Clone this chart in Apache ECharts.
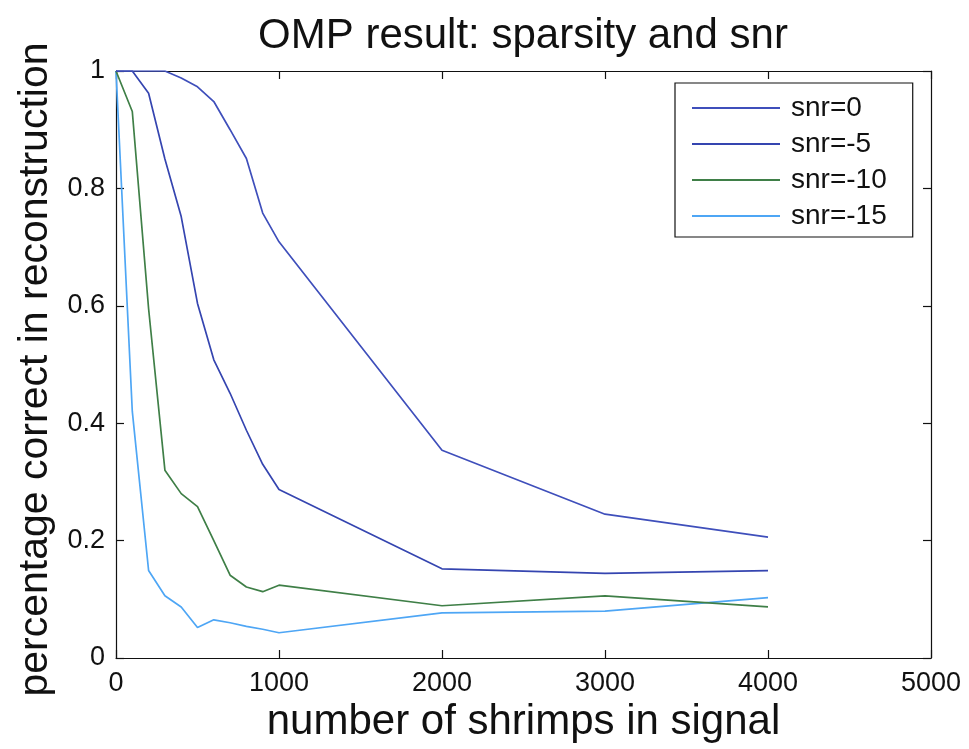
<!DOCTYPE html>
<html>
<head>
<meta charset="utf-8">
<script src="https://cdn.jsdelivr.net/npm/echarts@6/dist/echarts.min.js"></script>
<style>
html,body{margin:0;padding:0;background:#fff;}
#chart{width:969px;height:749px;}
</style>
</head>
<body>
<div id="chart"></div>
<script>
const xValues = [0, 100, 200, 300, 400, 500, 600, 700, 800, 900, 1000, 2000, 3000, 4000];
const snr0   = [1, 1, 1, 1, 0.988, 0.973, 0.948, 0.900, 0.851, 0.758, 0.709, 0.354, 0.245, 0.206];
const snrM5  = [1, 1, 0.962, 0.850, 0.752, 0.604, 0.508, 0.451, 0.388, 0.330, 0.287, 0.152, 0.144, 0.149];
const snrM10 = [1, 0.931, 0.595, 0.320, 0.280, 0.258, 0.200, 0.141, 0.121, 0.113, 0.124, 0.089, 0.106, 0.087];
const snrM15 = [1, 0.420, 0.149, 0.106, 0.087, 0.052, 0.065, 0.060, 0.054, 0.049, 0.043, 0.077, 0.080, 0.103];
const seriesNames = ['snr=0', 'snr=-5', 'snr=-10', 'snr=-15'];
const xTicks = [0, 1000, 2000, 3000, 4000, 5000];
const yTicks = [0, 0.2, 0.4, 0.6, 0.8, 1];

const FONT = "'Liberation Sans', Arial, Helvetica, sans-serif";
const colors = ['#3f4fbb', '#3545b0', '#3f7f47', '#4ea6f5'];
const pair = arr => xValues.map((x, i) => [x, arr[i]]);

const chart = echarts.init(document.getElementById('chart'), null, {renderer: 'canvas'});
const axisCommon = () => ({
  axisLine: {show: true, onZero: false, lineStyle: {color: '#111', width: 1.2}},
  axisTick: {show: true, inside: true, length: 8, lineStyle: {color: '#111', width: 1.2}},
  splitLine: {show: false}
});
chart.setOption({
  backgroundColor: '#fff',
  animation: false,
  title: {
    text: 'OMP result: sparsity and snr',
    left: 518, top: 10, textAlign: 'center',
    textStyle: {fontFamily: FONT, fontSize: 42, fontWeight: 'normal', color: '#111'}
  },
  grid: {left: 116, right: 38, top: 71, bottom: 91, containLabel: false},
  legend: {
    orient: 'vertical',
    left: 675, top: 83,
    data: seriesNames,
    icon: 'rect',
    itemWidth: 88, itemHeight: 2, itemGap: 4,
    padding: [9, 26, 5, 17],
    borderColor: '#111', borderWidth: 1.2, backgroundColor: '#fff',
    textStyle: {fontFamily: FONT, fontSize: 28, lineHeight: 32, color: '#111', padding: [0, 0, 0, 6]}
  },
  xAxis: [
    Object.assign(axisCommon(), {
      type: 'value', min: 0, max: 5000, interval: 1000, position: 'bottom',
      name: 'number of shrimps in signal', nameLocation: 'middle', nameGap: 30,
      nameTextStyle: {fontFamily: FONT, fontSize: 42, color: '#111'},
      axisLabel: {fontFamily: FONT, fontSize: 27, color: '#111', margin: 12,
        formatter: v => xTicks.includes(v) ? String(v) : ''}
    }),
    Object.assign(axisCommon(), {
      type: 'value', min: 0, max: 5000, interval: 1000, position: 'top',
      axisLabel: {show: false}
    })
  ],
  yAxis: [
    Object.assign(axisCommon(), {
      type: 'value', min: 0, max: 1, interval: 0.2, position: 'left',
      name: 'percentage correct in reconstruction', nameLocation: 'middle', nameGap: 58,
      nameRotate: 90,
      nameTextStyle: {fontFamily: FONT, fontSize: 41, color: '#111', padding: [0, 10, 0, 0]},
      axisLabel: {fontFamily: FONT, fontSize: 27, color: '#111', margin: 11,
        formatter: v => { const t = yTicks.find(y => Math.abs(y - v) < 1e-9); return t === undefined ? '' : String(+t.toFixed(1)); }}
    }),
    Object.assign(axisCommon(), {
      type: 'value', min: 0, max: 1, interval: 0.2, position: 'right',
      axisLabel: {show: false}
    })
  ],
  series: [snr0, snrM5, snrM10, snrM15].map((arr, i) => ({
    name: seriesNames[i],
    type: 'line',
    xAxisIndex: 0, yAxisIndex: 0,
    data: pair(arr),
    symbol: 'none', showSymbol: false,
    lineStyle: {color: colors[i], width: 1.7},
    itemStyle: {color: colors[i]},
    z: 10 - i
  }))
});
</script>
</body>
</html>
